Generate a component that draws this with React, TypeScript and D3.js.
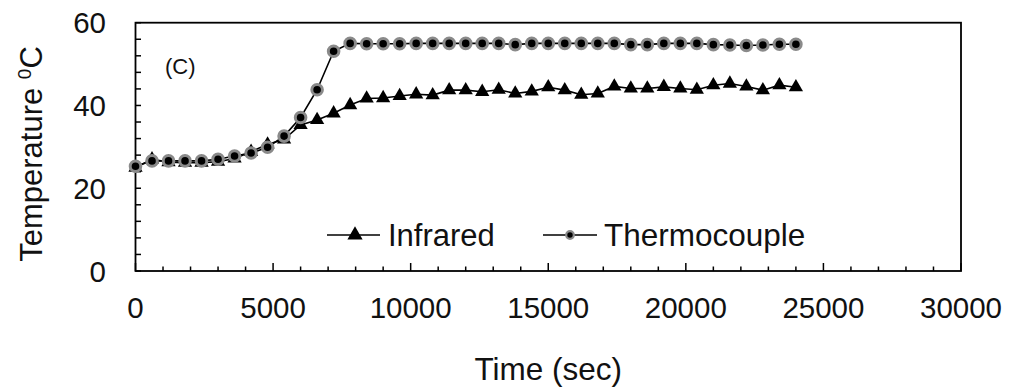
import React, { useRef, useEffect } from 'react';
import * as d3 from 'd3';

// time in seconds, one reading every 600 s
const times = [
  0, 600, 1200, 1800, 2400, 3000, 3600, 4200, 4800, 5400,
  6000, 6600, 7200, 7800, 8400, 9000, 9600, 10200, 10800, 11400,
  12000, 12600, 13200, 13800, 14400, 15000, 15600, 16200, 16800, 17400,
  18000, 18600, 19200, 19800, 20400, 21000, 21600, 22200, 22800, 23400,
  24000
];

const infrared = [
  25.0, 27.0, 26.3, 26.2, 26.2, 26.4, 27.2, 28.8, 30.6, 31.8,
  35.3, 36.5, 38.1, 40.1, 41.7, 41.8, 42.3, 42.7, 42.5, 43.7,
  43.7, 43.3, 43.8, 42.9, 43.4, 44.4, 43.7, 42.6, 42.9, 44.6,
  44.1, 44.1, 44.5, 44.1, 43.8, 44.9, 45.3, 44.6, 43.7, 44.9,
  44.4
];

const thermocouple = [
  25.3, 26.6, 26.6, 26.6, 26.6, 27.0, 27.8, 28.5, 29.9, 32.6,
  37.1, 43.8, 53.1, 55.0, 54.9, 54.9, 54.9, 55.0, 55.0, 55.0,
  55.0, 55.0, 55.0, 54.7, 55.0, 55.0, 55.0, 55.0, 55.0, 55.0,
  54.7, 54.7, 55.0, 55.0, 55.0, 54.7, 54.6, 54.5, 54.6, 54.8,
  54.8
];

const xTickLabels = [0, 5000, 10000, 15000, 20000, 25000, 30000];
const yTickLabels = [0, 20, 40, 60];
const seriesNames = ['Infrared', 'Thermocouple'];

const FONT = '"Liberation Sans", Arial, sans-serif';

export default function App() {
  const svgRef = useRef<SVGSVGElement>(null);
  const width = 1011;
  const height = 392;

  useEffect(() => {
    const svg = d3.select(svgRef.current);
    svg.selectAll('*').remove();

    const plot = { left: 135.5, right: 961, top: 22.7, bottom: 271 };

    const x = d3.scaleLinear().domain([0, 30000]).range([plot.left, plot.right]);
    const y = d3.scaleLinear().domain([0, 60]).range([plot.bottom, plot.top]);

    // minor/major ticks, pointing inward
    const xMinor = d3.range(0, 30001, 1000);
    svg.append('g')
      .selectAll('line')
      .data(xMinor)
      .join('line')
      .attr('x1', d => x(d))
      .attr('x2', d => x(d))
      .attr('y1', plot.bottom)
      .attr('y2', d => plot.bottom - (d % 5000 === 0 ? 8 : 4.5))
      .attr('stroke', '#000')
      .attr('stroke-width', 1.5);

    const yMinor = d3.range(0, 61, 4);
    svg.append('g')
      .selectAll('line')
      .data(yMinor)
      .join('line')
      .attr('x1', plot.left)
      .attr('x2', plot.left + 5.5)
      .attr('y1', d => y(d))
      .attr('y2', d => y(d))
      .attr('stroke', '#000')
      .attr('stroke-width', 1.5);

    // plot frame
    svg.append('rect')
      .attr('x', plot.left)
      .attr('y', plot.top)
      .attr('width', plot.right - plot.left)
      .attr('height', plot.bottom - plot.top)
      .attr('fill', 'none')
      .attr('stroke', '#000')
      .attr('stroke-width', 1.8);

    // tick labels
    svg.append('g')
      .selectAll('text')
      .data(xTickLabels)
      .join('text')
      .attr('x', d => x(d))
      .attr('y', 318)
      .attr('text-anchor', 'middle')
      .attr('font-family', FONT)
      .attr('font-size', 29.5)
      .attr('fill', '#111')
      .text(d => String(d));

    svg.append('g')
      .selectAll('text')
      .data(yTickLabels)
      .join('text')
      .attr('x', 106)
      .attr('y', d => y(d))
      .attr('dy', '0.36em')
      .attr('text-anchor', 'end')
      .attr('font-family', FONT)
      .attr('font-size', 29.5)
      .attr('fill', '#111')
      .text(d => String(d));

    // axis titles
    svg.append('text')
      .attr('x', (plot.left + plot.right) / 2)
      .attr('y', 380)
      .attr('text-anchor', 'middle')
      .attr('font-family', FONT)
      .attr('font-size', 31.5)
      .attr('fill', '#111')
      .text('Time (sec)');

    const yTitle = svg.append('text')
      .attr('transform', 'translate(42,154) rotate(-90)')
      .attr('text-anchor', 'middle')
      .attr('font-family', FONT)
      .attr('font-size', 31)
      .attr('fill', '#111');
    yTitle.append('tspan').text('Temperature ');
    yTitle.append('tspan').attr('font-size', 19).attr('dy', -11).text('0');
    yTitle.append('tspan').attr('dy', 11).text('C');

    svg.append('text')
      .attr('x', 165)
      .attr('y', 74)
      .attr('font-family', FONT)
      .attr('font-size', 22)
      .attr('fill', '#111')
      .text('(C)');

    const line = d3.line<number>()
      .x((_, i) => x(times[i]))
      .y(d => y(d));

    const triangle = d3.symbol().type(d3.symbolTriangle).size(88);

    // Infrared
    svg.append('path')
      .datum(infrared)
      .attr('d', line)
      .attr('fill', 'none')
      .attr('stroke', '#000')
      .attr('stroke-width', 1.6);

    svg.append('g')
      .selectAll('path')
      .data(infrared)
      .join('path')
      .attr('d', triangle)
      .attr('transform', (d, i) => `translate(${x(times[i])},${y(d)})`)
      .attr('fill', '#000');

    // Thermocouple
    svg.append('path')
      .datum(thermocouple)
      .attr('d', line)
      .attr('fill', 'none')
      .attr('stroke', '#000')
      .attr('stroke-width', 1.6);

    svg.append('g')
      .selectAll('circle')
      .data(thermocouple)
      .join('circle')
      .attr('cx', (_, i) => x(times[i]))
      .attr('cy', d => y(d))
      .attr('r', 5.3)
      .attr('fill', '#000')
      .attr('stroke', '#8a8a8a')
      .attr('stroke-width', 3);

    // legend
    const legY = 235;
    const leg = svg.append('g');
    leg.append('line')
      .attr('x1', 327).attr('x2', 380)
      .attr('y1', legY).attr('y2', legY)
      .attr('stroke', '#000').attr('stroke-width', 1.6);
    leg.append('path')
      .attr('d', d3.symbol().type(d3.symbolTriangle).size(100))
      .attr('transform', `translate(355,${legY})`)
      .attr('fill', '#000');
    leg.append('text')
      .attr('x', 388).attr('y', legY + 11)
      .attr('font-family', FONT).attr('font-size', 31)
      .attr('fill', '#111')
      .text(seriesNames[0]);

    leg.append('line')
      .attr('x1', 543).attr('x2', 597)
      .attr('y1', legY).attr('y2', legY)
      .attr('stroke', '#000').attr('stroke-width', 1.6);
    leg.append('circle')
      .attr('cx', 570).attr('cy', legY)
      .attr('r', 3.8)
      .attr('fill', '#000')
      .attr('stroke', '#8a8a8a')
      .attr('stroke-width', 2.2);
    leg.append('text')
      .attr('x', 604).attr('y', legY + 11)
      .attr('font-family', FONT).attr('font-size', 31.5)
      .attr('fill', '#111')
      .text(seriesNames[1]);
  }, []);

  return (
    <svg
      ref={svgRef}
      width={width}
      height={height}
      style={{ position: 'absolute', left: 0, top: 0, background: '#fff' }}
    ></svg>
  );
}
